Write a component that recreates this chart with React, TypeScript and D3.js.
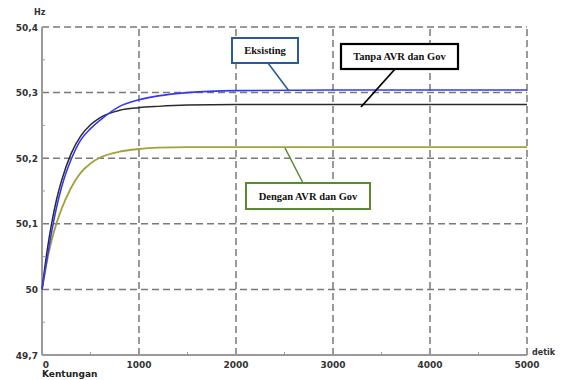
import React from "react";
import * as d3 from "d3";

const times = [0, 50, 100, 150, 200, 300, 400, 500, 600, 800, 1000, 1200, 1500, 2000, 3000, 4000, 5000];
const eksisting = [50, 50.045, 50.088, 50.125, 50.155, 50.198, 50.228, 50.245, 50.258, 50.279, 50.289, 50.295, 50.300, 50.303, 50.304, 50.304, 50.304];
const tanpa = [50, 50.056, 50.101, 50.137, 50.165, 50.207, 50.234, 50.251, 50.262, 50.273, 50.277, 50.279, 50.281, 50.282, 50.282, 50.282, 50.282];
const dengan = [50, 50.042, 50.075, 50.101, 50.122, 50.155, 50.178, 50.192, 50.201, 50.210, 50.214, 50.216, 50.217, 50.217, 50.217, 50.217, 50.217];

const xTicks = [0, 1000, 2000, 3000, 4000, 5000];
const xTickLabels = ["0", "1000", "2000", "3000", "4000", "5000"];
const xMinor = [500, 1500, 2500, 3500, 4500];
const yTicks = [49.9, 50, 50.1, 50.2, 50.3, 50.4];
const yTickLabels = ["49,7", "50", "50,1", "50,2", "50,3", "50,4"];
const yMinor = [49.95, 50.05, 50.15, 50.25, 50.35];

const seriesNames = ["Eksisting", "Tanpa AVR dan Gov", "Dengan AVR dan Gov"];

export default function App() {
  const W = 562, H = 380;
  const x = d3.scaleLinear().domain([0, 5000]).range([42, 527]);
  const y = d3.scaleLinear().domain([49.9, 50.4]).range([355, 27]);
  const line = d3
    .line<number>()
    .x((_, i) => x(times[i]))
    .y((d) => y(d))
    .curve(d3.curveMonotoneX);

  const axisColor = "#9a9a9a";
  const gridColor = "#7a7a7a";
  const tickFont = { fontFamily: "'DejaVu Sans', sans-serif", fontWeight: 700 as const, fontSize: 9, fill: "#333" };
  const annFont = { fontFamily: "'Liberation Serif', 'Times New Roman', serif", fontWeight: 700 as const, fontSize: 10.5, fill: "#111" };

  return (
    <div style={{ position: "fixed", left: 0, top: 0 }}>
      <svg width={W} height={H} style={{ display: "block", background: "#fff" }}>
        {yTicks.slice(1).map((t) => (
          <line key={"gy" + t} x1={x(0)} x2={x(5000)} y1={y(t)} y2={y(t)} stroke={gridColor} strokeWidth={1.5} strokeDasharray="7 4" />
        ))}
        {xTicks.slice(1).map((t) => (
          <line key={"gx" + t} x1={x(t)} x2={x(t)} y1={y(49.9)} y2={y(50.4)} stroke={gridColor} strokeWidth={1.5} strokeDasharray="7 4" />
        ))}
        {xMinor.map((t) => (
          <line key={"mx" + t} x1={x(t)} x2={x(t)} y1={y(49.9)} y2={y(49.9) - 3} stroke={axisColor} strokeWidth={1} />
        ))}
        {yMinor.map((t) => (
          <line key={"my" + t} x1={x(0)} x2={x(0) + 3} y1={y(t)} y2={y(t)} stroke={axisColor} strokeWidth={1} />
        ))}
        <line x1={x(0)} x2={x(0)} y1={y(49.9)} y2={y(50.4)} stroke={axisColor} strokeWidth={2} />
        <line x1={x(0)} x2={x(5000)} y1={y(49.9)} y2={y(49.9)} stroke={axisColor} strokeWidth={2} />
        {yTicks.map((t, i) => (
          <text key={"yl" + t} x={x(0) - 4} y={y(t) + 3.5} textAnchor="end" style={tickFont}>
            {yTickLabels[i]}
          </text>
        ))}
        {xTicks.map((t, i) => (
          <text key={"xl" + t} x={i === 0 ? x(t) + 4 : x(t)} y={y(49.9) + 13} textAnchor="middle" style={tickFont}>
            {xTickLabels[i]}
          </text>
        ))}
        <text x={34} y={15} style={{ ...tickFont, fontSize: 8 }}>Hz</text>
        <text x={532} y={355} style={{ ...tickFont, fontSize: 8 }}>detik</text>
        <text x={42} y={377} style={{ ...tickFont, fontSize: 9, fill: "#222" }}>Kentungan</text>

        <path d={line(dengan) || ""} fill="none" stroke="#a3a33c" strokeWidth={1.8} />
        <path d={line(tanpa) || ""} fill="none" stroke="#2a2a2a" strokeWidth={1.5} />
        <path d={line(eksisting) || ""} fill="none" stroke="#3838f0" strokeWidth={1.6} />

        <line x1={268} y1={63} x2={289} y2={91} stroke="#2a5a9a" strokeWidth={1.5} />
        <rect x={232} y={38} width={66} height={25} fill="#fff" stroke="#2a5a9a" strokeWidth={2} />
        <text x={265} y={54} textAnchor="middle" style={annFont}>{seriesNames[0]}</text>

        <line x1={395} y1={69} x2={361} y2={107} stroke="#000" strokeWidth={1.8} />
        <rect x={341} y={44} width={117} height={25} fill="#fff" stroke="#000" strokeWidth={2.2} />
        <text x={399.5} y={60} textAnchor="middle" style={annFont}>{seriesNames[1]}</text>

        <line x1={285} y1={148} x2={303} y2={183} stroke="#5a8a2e" strokeWidth={1.5} />
        <rect x={246} y={183} width={124} height={26} fill="#fff" stroke="#5a8a2e" strokeWidth={2} />
        <text x={308} y={199.5} textAnchor="middle" style={annFont}>{seriesNames[2]}</text>
      </svg>
    </div>
  );
}
